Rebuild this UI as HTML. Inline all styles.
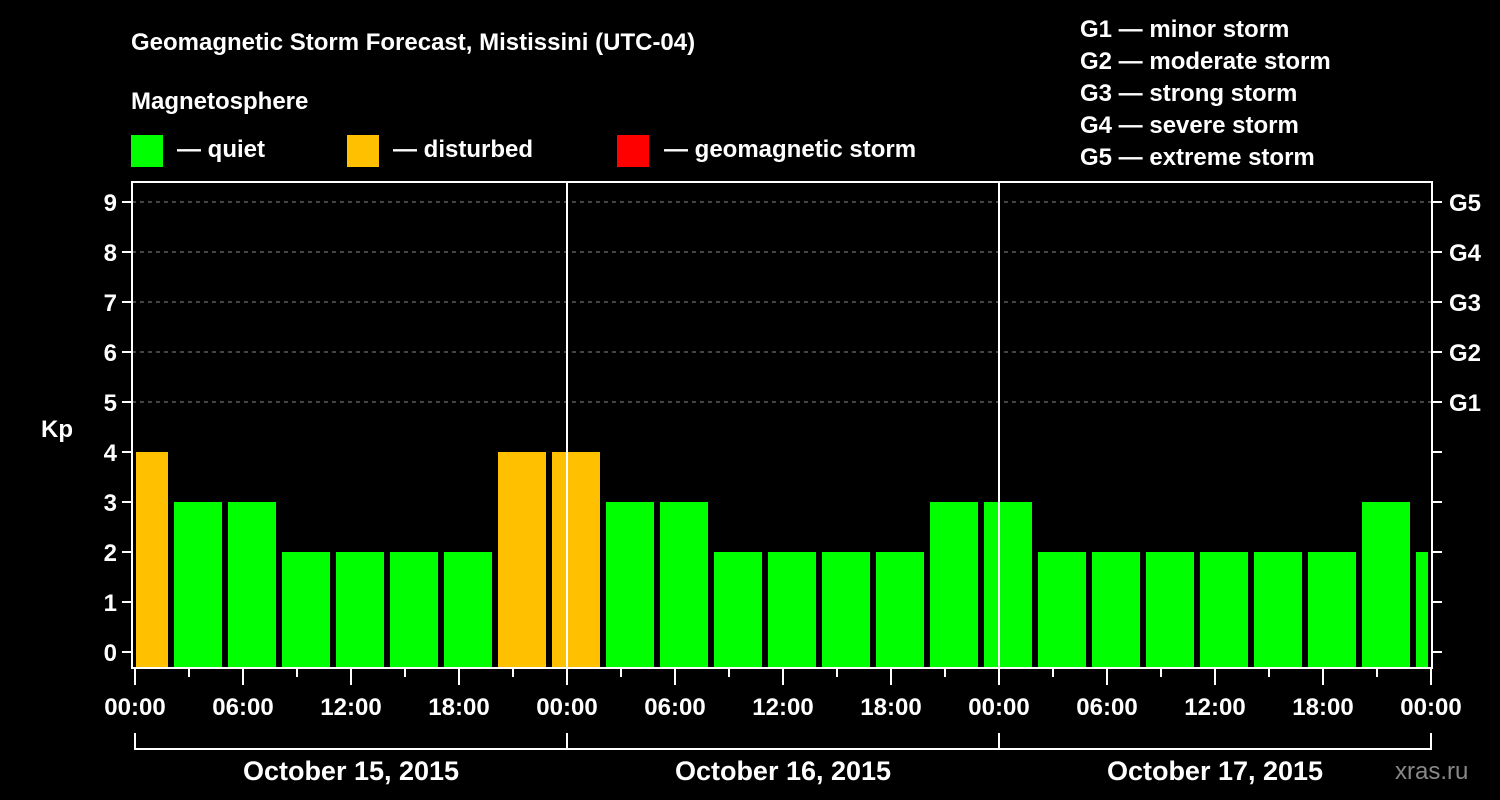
<!DOCTYPE html>
<html><head><meta charset="utf-8"><style>
html,body{margin:0;padding:0;background:#000;}
svg{display:block;font-family:"Liberation Sans",Arial,sans-serif;font-weight:bold;}
</style></head><body>
<svg id="chart" width="1500" height="800" viewBox="0 0 1500 800" xmlns="http://www.w3.org/2000/svg">
<rect width="1500" height="800" fill="#000"/>
<text x="131" y="50" fill="#fff" font-size="24">Geomagnetic Storm Forecast, Mistissini (UTC-04)</text>
<text x="131" y="109" fill="#fff" font-size="24">Magnetosphere</text>
<g><rect x="131" y="135" width="32" height="32" fill="#00ff00"/><text x="177" y="157" fill="#fff" font-size="24">— quiet</text></g>
<g><rect x="347" y="135" width="32" height="32" fill="#ffc000"/><text x="393" y="157" fill="#fff" font-size="24">— disturbed</text></g>
<g><rect x="617" y="135" width="32" height="32" fill="#ff0000"/><text x="664" y="157" fill="#fff" font-size="24">— geomagnetic storm</text></g>
<g fill="#fff" font-size="24">
<text x="1080" y="37">G1 — minor storm</text>
<text x="1080" y="69">G2 — moderate storm</text>
<text x="1080" y="101">G3 — strong storm</text>
<text x="1080" y="133">G4 — severe storm</text>
<text x="1080" y="165">G5 — extreme storm</text>
</g>
<text x="41" y="437" fill="#fff" font-size="24">Kp</text>
<g id="grid"></g>
<g id="bars"></g>
<g id="axes"></g>
<text x="1395" y="779" fill="#888" font-size="24" font-weight="normal">xras.ru</text>
</svg>
<script>
const kpValues=[4,3,3,2,2,2,2,4,4,3,3,2,2,2,2,3,3,2,2,2,2,2,2,3,2];
const yTicks=[0,1,2,3,4,5,6,7,8,9];
const gLabels=["G1","G2","G3","G4","G5"];
const xTickLabels=["00:00","06:00","12:00","18:00","00:00","06:00","12:00","18:00","00:00","06:00","12:00","18:00","00:00"];
const dayLabels=["October 15, 2015","October 16, 2015","October 17, 2015"];
const NS="http://www.w3.org/2000/svg";
const L=132,R=1432,T=182,B=668;
const y=v=>652-50*v;
const xh=h=>135+18*h; // hours since Oct 15 00:00
function mk(tag,attrs,parent){const e=document.createElementNS(NS,tag);for(const k in attrs)e.setAttribute(k,attrs[k]);parent.appendChild(e);return e;}
const grid=document.getElementById('grid'),bars=document.getElementById('bars'),axes=document.getElementById('axes');
for(let v=5;v<=9;v++){const l=mk('line',{x1:L,x2:R,y1:y(v),y2:y(v),stroke:'#888','stroke-dasharray':'4,4','stroke-width':1},grid);

}
kpValues.forEach((v,i)=>{
const c=xh(3*i-1+1.5)-18+18; // bar center: slot starts 1h before 3h boundary
const cx=144+54*i;
let x0=Math.max(cx-24,L+4),x1=Math.min(cx+24,R-4);
const col=v>=5?'#ff0000':(v>=4?'#ffc000':'#00ff00');
const r=mk('rect',{x:x0,y:y(v),width:x1-x0,height:B-1-y(v),fill:col},bars);


});
mk('rect',{x:L,y:T,width:R-L,height:B-T,fill:'none',stroke:'#fff','stroke-width':2},axes);
[1,2].forEach(d=>{const l=mk('line',{x1:xh(24*d),x2:xh(24*d),y1:T,y2:B,stroke:'#fff','stroke-width':2},axes);

});
yTicks.forEach(v=>{
mk('line',{x1:L-10,x2:L,y1:y(v),y2:y(v),stroke:'#fff','stroke-width':2},axes);
mk('line',{x1:R,x2:R+10,y1:y(v),y2:y(v),stroke:'#fff','stroke-width':2},axes);
const t=mk('text',{x:L-15,y:y(v)+9,fill:'#fff','font-size':24,'text-anchor':'end'},axes);t.textContent=v;


});
gLabels.forEach((g,i)=>{const t=mk('text',{x:1449,y:y(5+i)+9,fill:'#fff','font-size':24},axes);t.textContent=g;

});
for(let h=0;h<=72;h+=3){mk('line',{x1:xh(h),x2:xh(h),y1:B,y2:h%6===0?685:677,stroke:'#fff','stroke-width':2},axes);}
xTickLabels.forEach((s,i)=>{const t=mk('text',{x:xh(6*i),y:715,fill:'#fff','font-size':24,'text-anchor':'middle'},axes);t.textContent=s;

});
mk('line',{x1:xh(0),x2:xh(72),y1:749,y2:749,stroke:'#fff','stroke-width':2},axes);
for(let d=0;d<=3;d++)mk('line',{x1:xh(24*d),x2:xh(24*d),y1:733,y2:750,stroke:'#fff','stroke-width':2},axes);
dayLabels.forEach((s,i)=>{const t=mk('text',{x:xh(24*i+12),y:780,fill:'#fff','font-size':27,'text-anchor':'middle'},axes);t.textContent=s;

});
</script>
</body></html>
